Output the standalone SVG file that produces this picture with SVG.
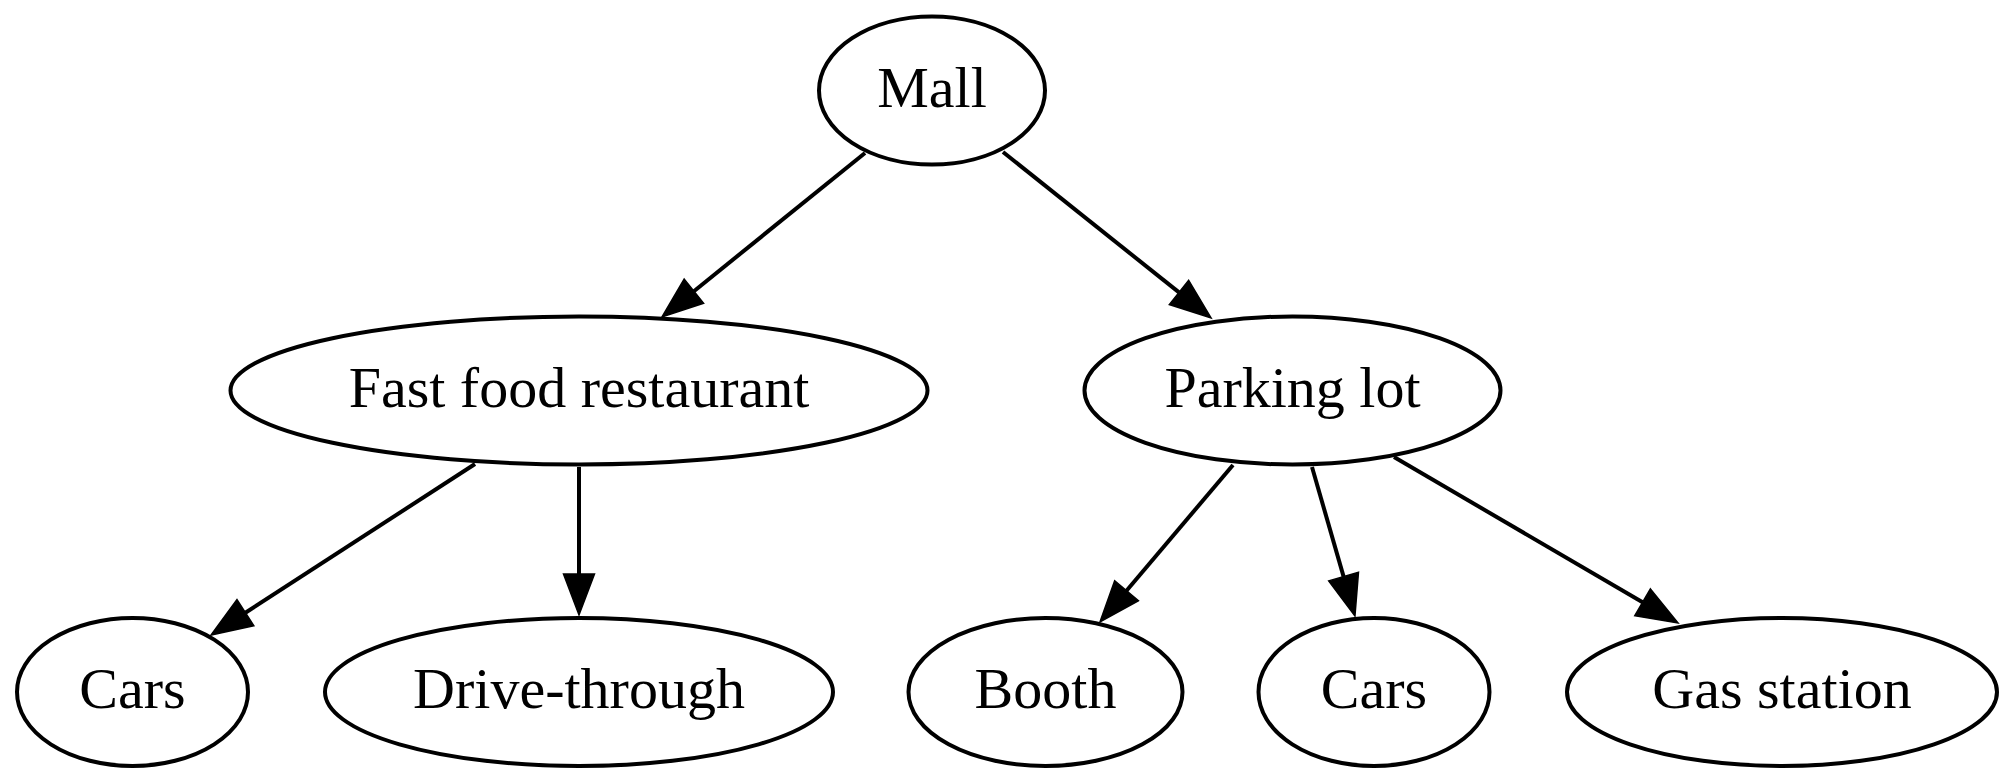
<svg xmlns="http://www.w3.org/2000/svg" width="2016" height="783" viewBox="0 0 2016 783">
<style>
.node ellipse{fill:none;stroke:#000;stroke-width:4}
.node text{font-family:"Liberation Serif","Times New Roman",serif;font-size:58px;text-anchor:middle;fill:#000}
.edge{stroke:#000;stroke-width:4;fill:none}
</style>
<defs>
<marker id="arr" markerUnits="userSpaceOnUse" markerWidth="44" markerHeight="34" refX="0" refY="0" orient="auto" viewBox="0 -17 44 34" overflow="visible">
<path d="M0,-15.5 L41,0 L0,15.5 Z" fill="#000" stroke="#000" stroke-width="1.5" stroke-linejoin="miter"/>
</marker>
</defs>
<rect width="2016" height="783" fill="#fff"/>
<g id="connectors">
<line class="edge" x1="865" y1="153" x2="693.9" y2="291.2" marker-end="url(#arr)"/>
<line class="edge" x1="1003" y1="152" x2="1179" y2="292.4" marker-end="url(#arr)"/>
<line class="edge" x1="475" y1="464" x2="245.4" y2="612.7" marker-end="url(#arr)"/>
<line class="edge" x1="579" y1="467" x2="579" y2="574" marker-end="url(#arr)"/>
<line class="edge" x1="1233" y1="465" x2="1126.5" y2="590.7" marker-end="url(#arr)"/>
<line class="edge" x1="1312" y1="467" x2="1343.6" y2="576.6" marker-end="url(#arr)"/>
<line class="edge" x1="1394" y1="457" x2="1642.6" y2="602.3" marker-end="url(#arr)"/>
</g>
<g id="mall" class="node"><ellipse cx="932" cy="90.5" rx="113" ry="74"/><text x="932" y="107">Mall</text></g>
<g id="fastfood" class="node"><ellipse cx="579" cy="390.5" rx="348.5" ry="74"/><text x="579" y="407">Fast food restaurant</text></g>
<g id="parking" class="node"><ellipse cx="1292.5" cy="390.5" rx="208" ry="74"/><text x="1292.5" y="407">Parking lot</text></g>
<g id="cars1" class="node"><ellipse cx="132.5" cy="692" rx="115.5" ry="74"/><text x="132.5" y="708">Cars</text></g>
<g id="drivethrough" class="node"><ellipse cx="579" cy="692" rx="254" ry="74"/><text x="579" y="708">Drive-through</text></g>
<g id="booth" class="node"><ellipse cx="1045.5" cy="692" rx="137" ry="74"/><text x="1045.5" y="708">Booth</text></g>
<g id="cars2" class="node"><ellipse cx="1374" cy="692" rx="115.5" ry="74"/><text x="1374" y="708">Cars</text></g>
<g id="gasstation" class="node"><ellipse cx="1782" cy="692" rx="215" ry="74"/><text x="1782" y="708">Gas station</text></g>
</svg>
